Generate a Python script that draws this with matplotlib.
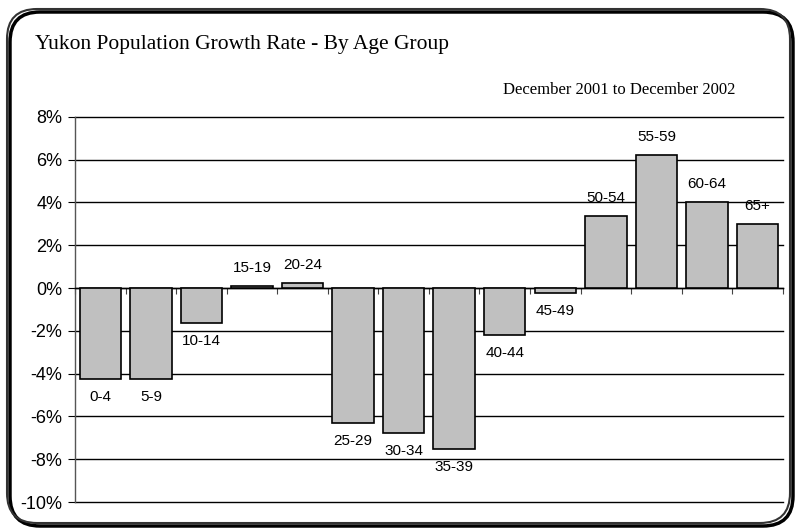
import matplotlib
matplotlib.use('Agg')
import matplotlib.pyplot as plt
import numpy as np
from matplotlib.patches import FancyBboxPatch
from matplotlib.transforms import IdentityTransform
from matplotlib.ticker import FuncFormatter

groups = ['0-4', '5-9', '10-14', '15-19', '20-24', '25-29', '30-34',
          '35-39', '40-44', '45-49', '50-54', '55-59', '60-64', '65+']
growth = [-4.27, -4.27, -1.61, 0.08, 0.25, -6.31, -6.78,
          -7.50, -2.19, -0.25, 3.38, 6.20, 4.03, 2.99]
title = 'Yukon Population Growth Rate - By Age Group'
subtitle = 'December 2001 to December 2002'

fig = plt.figure(figsize=(7.98, 5.29), dpi=100)
ax = fig.add_axes([0.094, 0.051, 0.887, 0.728])

x = np.arange(len(groups))
ax.bar(x, growth, width=0.82, color='#c0c0c0', edgecolor='black',
       linewidth=1.2, zorder=3)

for xi, v, g in zip(x, growth, groups):
    off = 13 if v >= 0 else -13
    ax.annotate(g, (xi, v), xytext=(0, off), textcoords='offset points',
                ha='center', va='center', fontsize=11,
                family='Liberation Sans', zorder=4)

ax.set_xlim(-0.5, len(groups) - 0.5)
ax.set_ylim(-10, 8)
ax.set_yticks(np.arange(-10, 9, 2))
ax.yaxis.set_major_formatter(FuncFormatter(lambda v, p: '{:.0f}%'.format(v)))
ax.grid(axis='y', color='black', linewidth=1.0, zorder=1)
for gl in ax.get_ygridlines():
    gl.set_clip_on(False)
ax.set_axisbelow(True)

ax.spines['top'].set_visible(False)
ax.spines['right'].set_visible(False)
ax.spines['bottom'].set_position(('data', 0))
ax.spines['bottom'].set_linewidth(1.0)
ax.spines['left'].set_linewidth(1.0)
ax.spines['left'].set_color('#555555')
ax.set_xticks(np.arange(-0.5, len(groups), 1.0))
ax.set_xticklabels([])
ax.tick_params(axis='x', direction='out', length=4, width=0.8, colors='#444444')
ax.tick_params(axis='y', direction='out', length=5, width=0.8, labelsize=13,
               pad=4)
for lab in ax.get_yticklabels():
    lab.set_family('Liberation Sans')

fig.text(35 / 798, 1 - 45 / 529, title, fontsize=15.5, family='Liberation Serif',
         va='center', ha='left')
fig.text(735 / 798, 1 - 90 / 529, subtitle, fontsize=12, family='Liberation Serif',
         va='center', ha='right')

# rounded frame with shadow
shadow = FancyBboxPatch((10, 3), 783, 514, boxstyle='round,pad=0,rounding_size=30',
                        transform=IdentityTransform(), facecolor='none',
                        edgecolor='black', linewidth=2.5, zorder=0)
frame = FancyBboxPatch((7, 6), 783, 514, boxstyle='round,pad=0,rounding_size=30',
                       transform=IdentityTransform(), facecolor='none',
                       edgecolor='#333333', linewidth=1.5, zorder=1)
fig.patches.append(shadow)
fig.patches.append(frame)

fig.savefig('out.png', dpi=100)
